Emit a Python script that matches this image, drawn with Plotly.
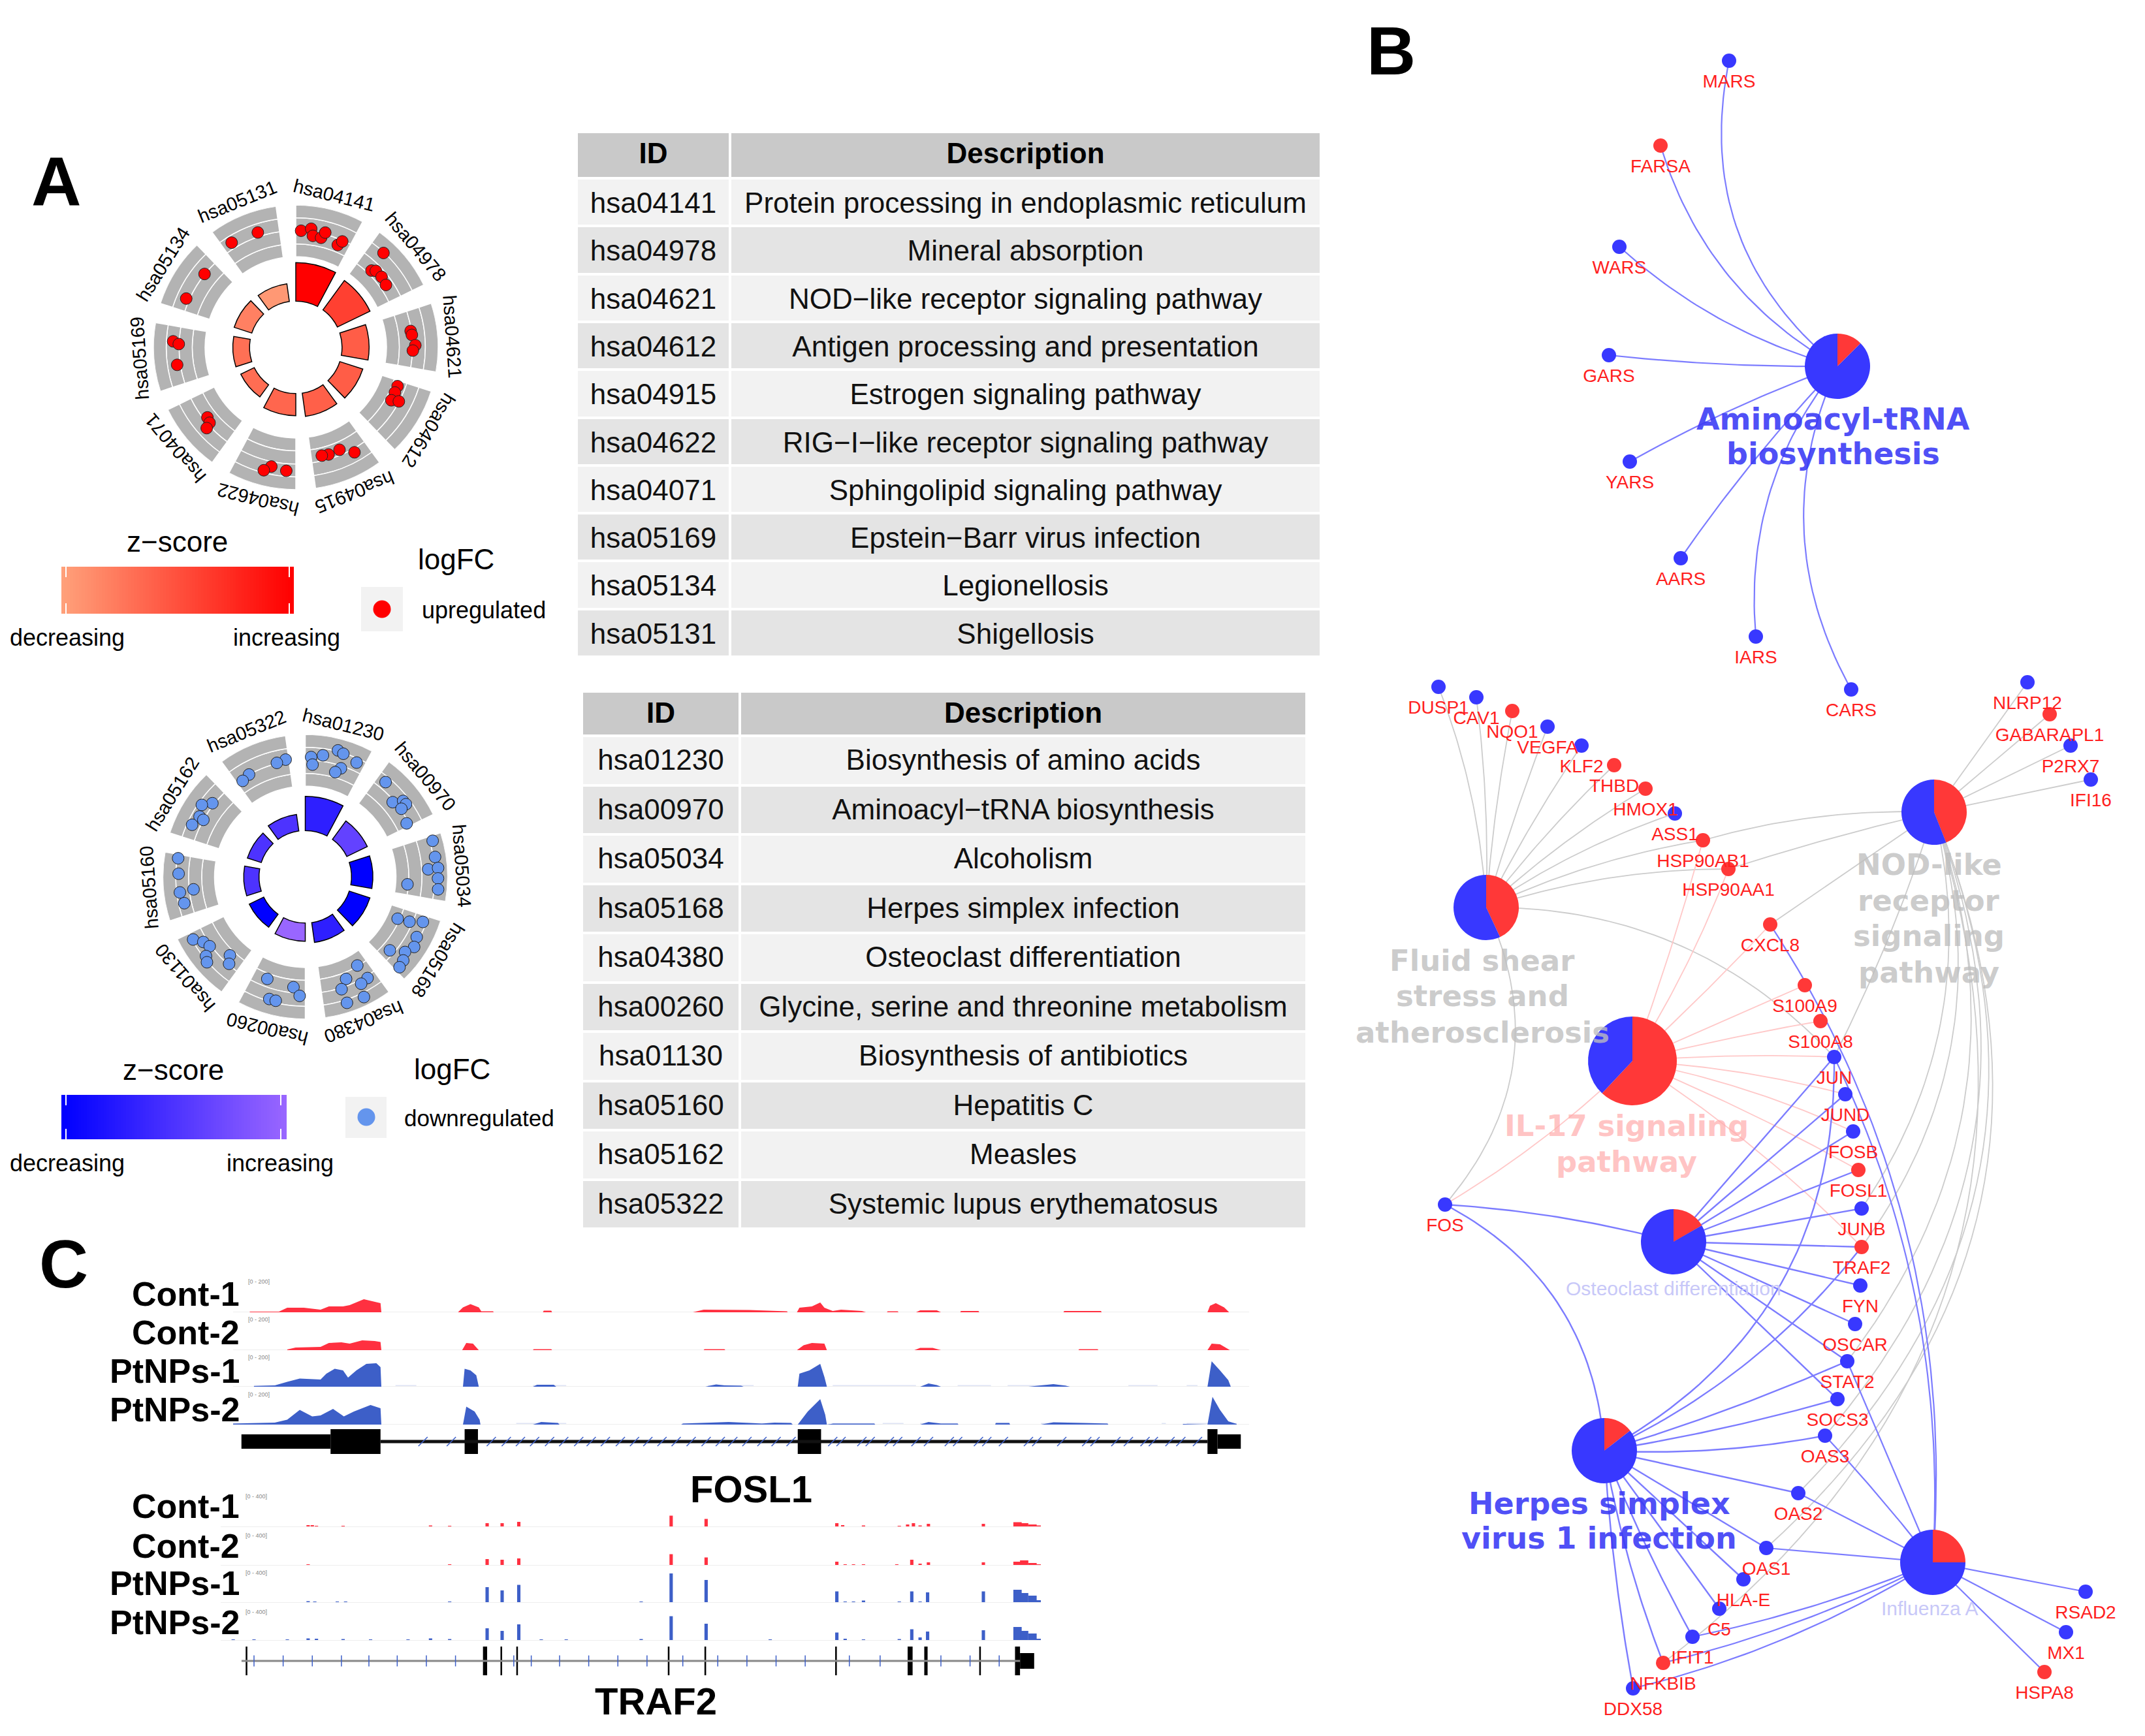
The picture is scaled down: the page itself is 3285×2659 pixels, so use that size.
import numpy as np
import plotly.graph_objects as go

W, H = 3285, 2659
FONT = "Liberation Sans"
WIDE = "DejaVu Sans"

# ---------- panel A: circle plots ----------
up_ids = ["hsa04141","hsa04978","hsa04621","hsa04612","hsa04915","hsa04622","hsa04071","hsa05169","hsa05134","hsa05131"]
up_desc = ["Protein processing in endoplasmic reticulum","Mineral absorption","NOD−like receptor signaling pathway",
           "Antigen processing and presentation","Estrogen signaling pathway","RIG−I−like receptor signaling pathway",
           "Sphingolipid signaling pathway","Epstein−Barr virus infection","Legionellosis","Shigellosis"]
up_bar = [238,232,206,198,196,192,172,177,182,180]
up_z = [1.0,0.6,0.42,0.42,0.4,0.36,0.32,0.3,0.2,0.05]
up_theta = [2.6,7.4,8.7,13,14.4,22.3,23.7, 42.9,44.6,46.3,50.6,55.3, 81.9,83.9,89,91.6, 110.9,114.5,119,117.7,
            150.8,156.9,163,166.5, 184.4,191.6,194.6, 231.6,228.8,227.8, 272.8,271.6,261.6, 308.8,294, 341.7,328.5]
up_r = [328,336,317,316,333,311,325, 362,303,311,312,308, 326,328,336,329, 306,306,307,327,
        338,313,315,313, 348,342,357, 317,322,338, 345,329,337, 329,337, 340,345]

down_ids = ["hsa01230","hsa00970","hsa05034","hsa05168","hsa04380","hsa00260","hsa01130","hsa05160","hsa05162","hsa05322"]
down_desc = ["Biosynthesis of amino acids","Aminoacyl−tRNA biosynthesis","Alcoholism","Herpes simplex infection",
             "Osteoclast differentiation","Glycine, serine and threonine metabolism","Biosynthesis of antibiotics",
             "Hepatitis C","Measles","Systemic lupus erythematosus"]
down_bar = [226,194,190,191,186,181,175,173,171,177]
down_z = [0.3,0.65,0.0,0.0,0.3,1.0,0.0,0.5,0.5,0.5]
down_theta = [2.8,3.7,8.3,14.5,17.2,24.2,18.2,16, 40.3,49.5,52.2,54.2,54.7,62.2, 74.2,81.3,86.5,86.2,90.7,95.4,94.2,
              114.4,113.3,111,118.4,122.8,131,127,130.5,133.8, 149.6,148.4,152.4,158.2,162.1,154,161.7,
              200.4,186.1,182.7,196.4,193.4, 240.8,237.4,234,231.4,229,223.8,221.2,
              278.3,271.4,263.6,262.9,257.7, 308.4,304.8,299.7,299.2,294.7, 350.5,346,331.2,326.9]
down_r = [337,316,345,367,362,352,321,306, 349,323,348,349,331,322, 372,369,346,374,373,375,288,
          285,319,354,356,364,315,351,362,367, 289,334,339,309,332,376,373,
          306,312,335,358,358, 361,340,332,357,366,306,325,
          361,356,316,355,348, 333,354,342,328,350, 334,330,328,322]

# ---------- panel B: network ----------
gene_names = ["MARS","FARSA","WARS","GARS","YARS","AARS","IARS","CARS",
 "DUSP1","CAV1","NQO1","VEGFA","KLF2","THBD","HMOX1","ASS1","HSP90AB1","HSP90AA1","CXCL8","S100A9","S100A8",
 "JUN","JUND","FOSB","FOSL1","JUNB","NLRP12","GABARAPL1","P2RX7","IFI16","FOS",
 "TRAF2","FYN","OSCAR","STAT2","SOCS3","OAS3","OAS2","OAS1","HLA-E","C5","IFIT1","NFKBIB","DDX58","RSAD2","MX1","HSPA8"]
gene_x = [2648,2543,2480,2464,2496,2574,2689,2835,
 2203,2261,2316,2370,2422,2472,2520,2565,2608,2647,2711,2764,2788,
 2809,2826,2838,2846,2851,3105,3139,3171,3202,2213,
 2851,2849,2841,2829,2814,2795,2754,2705,2670,2633,2592,2547,2501,3194,3164,3131]
gene_y = [93,223,378,544,707,855,975,1056,
 1052,1068,1089,1113,1142,1172,1208,1246,1287,1331,1416,1509,1564,
 1619,1676,1733,1792,1851,1045,1094,1142,1194,1845,
 1910,1969,2028,2085,2143,2199,2287,2371,2419,2464,2507,2547,2586,2438,2500,2561]
gene_up = ["FARSA","NQO1","THBD","HMOX1","HSP90AB1","HSP90AA1","CXCL8","S100A9","S100A8","FOSL1","GABARAPL1","TRAF2","NFKBIB","HSPA8"]

hub_names = ["Aminoacyl","Fluid","NOD","IL17","Osteoclast","Herpes","Influenza"]
hub_x = [2814,2276,2962,2500,2563,2457,2960]
hub_y = [561,1390,1244,1625,1902,2222,2393]
hub_radius = [50,50,50,68,50,50,50]
hub_red_share = [0.125,0.43,0.44,0.62,0.167,0.145,0.25]

edges_amino = [("MARS",-.3),("FARSA",-.2),("WARS",-.12),("GARS",-.03),("YARS",.04),("AARS",.04),("IARS",.2),("CARS",.25)]
edges_fluid = [("DUSP1",.08),("CAV1",.04),("NQO1",-.03),("VEGFA",-.02),("KLF2",-.03),("THBD",-.04),("HMOX1",-.05),
               ("ASS1",-.07),("HSP90AB1",-.07),("HSP90AA1",-.08),("JUN",-.22),("FOS",-.32)]
edges_nod = [("NLRP12",0),("GABARAPL1",0),("P2RX7",0),("IFI16",0),("HSP90AB1",.08),("HSP90AA1",.02),("CXCL8",0),("JUN",-.04),
             ("JUNB",-.22),("TRAF2",-.25),("STAT2",-.27),("OAS3",-.3),("OAS2",-.33),("OAS1",-.35),("NFKBIB",-.35)]
edges_il17 = [("HSP90AB1",.02),("HSP90AA1",.05),("CXCL8",.02),("S100A9",0),("S100A8",-.02),("JUN",-.03),("JUND",-.05),
              ("FOSB",-.06),("FOSL1",-.03),("TRAF2",-.06),("FOS",-.06)]
edges_osteo = [("JUN",0),("JUND",0),("FOSB",0),("FOSL1",0),("JUNB",0),("TRAF2",0),("FYN",0),("OSCAR",0),("STAT2",0),("SOCS3",0),("FOS",.05)]
edges_herpes = [("FOS",.28),("JUN",.3),("TRAF2",.12),("STAT2",.03),("SOCS3",.03),("OAS3",.06),("OAS2",0),("OAS1",0),
                ("HLA-E",0),("C5",0),("IFIT1",.03),("NFKBIB",.05),("DDX58",.03)]
edges_flu = [("CXCL8",.17),("JUN",.13),("STAT2",0),("OAS3",.02),("OAS2",0),("OAS1",0),("RSAD2",0),("MX1",0),("HSPA8",0),
             ("IFIT1",-.05),("NFKBIB",-.06),("DDX58",-.08)]

# ---------- panel C: coverage tracks ----------
fosl1_cont1_x = [300,335,345,365,385,395,412,420,437,450,457,458,550,556,565,575,578,592,593,652,653,662,663,832,845,900,945,946,957,960,975,985,990,1000,1010,1035,1040,1065,1066,1078,1079,1100,1105,1125,1130,1153,1154,1175,1176,1277,1278,1322,1323,1450,1453,1460,1470,1476]
fosl1_cont1_y = [2,2,14,14,8,18,18,22,40,32,28,0,0,15,25,15,3,3,0,0,5,5,0,0,8,7,3,0,0,14,18,30,14,4,8,4,0,0,3,3,0,0,6,6,0,0,4,4,0,0,4,4,0,0,20,28,15,0]
fosl1_cont2_x = [345,355,385,395,410,420,435,450,457,458,555,560,568,575,640,641,662,663,845,846,870,871,957,965,975,990,993,1098,1105,1120,1130,1295,1296,1318,1319,1450,1455,1465,1477]
fosl1_cont2_y = [2,8,10,22,24,20,30,28,25,0,0,22,20,0,0,3,3,0,0,3,3,0,0,15,22,20,0,0,7,7,0,0,3,3,0,0,20,18,0]
fosl1_pt1_x = [305,330,345,360,385,392,402,412,418,428,440,452,457,458,556,558,565,572,575,640,645,665,668,847,860,870,890,893,958,960,972,985,990,993,1105,1115,1125,1130,1235,1250,1265,1280,1285,1450,1455,1465,1475,1478]
fosl1_pt1_y = [2,4,15,25,22,40,55,50,28,50,70,72,60,0,0,55,50,35,0,0,6,6,0,0,7,4,3,0,0,40,50,70,30,0,0,10,5,0,0,4,8,3,0,0,78,50,20,0]
fosl1_pt2_x = [280,305,330,345,360,375,385,400,413,425,445,457,458,556,560,570,576,577,640,650,670,672,818,820,850,875,900,915,930,950,952,958,970,985,991,993,1000,1050,1051,1105,1115,1130,1150,1151,1195,1196,1212,1213,1250,1265,1300,1330,1331,1420,1421,1450,1456,1465,1475,1485]
fosl1_pt2_y = [3,5,6,15,45,25,28,48,25,40,60,50,0,0,55,40,15,0,0,8,5,0,0,3,5,8,5,3,6,5,0,0,40,78,30,0,3,3,0,0,8,3,3,0,0,5,5,0,0,7,5,3,0,0,2,0,85,45,10,2]
fosl1_pale1_start = [305,475,640,850,1000,1150,1210,1355,1425]
fosl1_pale1_end = [330,500,680,905,1100,1190,1280,1390,1438]
fosl1_pale2_start = [280,620,820,1000,1060,1105,1195,1250,1395,1425]
fosl1_pale2_end = [335,680,950,1050,1085,1150,1212,1330,1400,1485]
fosl1_exon_start = [290,397,558,958,1450,1462]
fosl1_exon_end = [397,457,574,986,1462,1490]
fosl1_exon_half = [22,38,38,38,38,22]
fosl1_marks = [508,542,590,608,625,642,660,677,695,710,727,745,762,778,795,812,830,848,865,880,897,915,932,950,
               1000,1010,1035,1045,1068,1078,1100,1115,1140,1150,1175,1185,1205,1235,1245,1275,1305,1315,1340,1355,1375,1385,1405,1418,1438]

traf2_cont1_x = [370,375,380,412,517,540,585,603,623,806,848,1005,1012,1037,1080,1090,1097,1105,1115,1181,1222,1230,1240,1248]
traf2_cont1_y = [6,6,4,3,5,4,12,12,16,35,25,12,6,5,3,8,12,5,10,10,15,12,8,5]
traf2_cont2_x = [370,412,540,585,603,623,806,848,1005,1015,1025,1037,1077,1095,1105,1115,1181,1222,1230,1240,1248]
traf2_cont2_y = [3,2,3,20,18,22,35,25,12,4,3,3,3,18,6,10,10,12,16,8,4]
traf2_pt1_x = [280,345,370,378,405,415,445,490,540,555,585,603,623,770,806,848,920,1005,1015,1025,1037,1080,1095,1105,1114,1181,1222,1230,1240,1248]
traf2_pt1_y = [2,2,5,4,3,3,2,2,3,2,48,38,55,3,90,70,2,35,4,3,7,3,35,4,32,35,40,30,22,8]
traf2_pt2_x = [280,305,345,370,380,412,445,490,517,540,585,603,623,650,680,770,806,848,925,1005,1015,1037,1080,1095,1105,1114,1181,1222,1230,1240,1248]
traf2_pt2_y = [4,3,4,7,6,5,3,4,7,5,38,30,50,3,3,5,75,52,3,25,6,4,5,35,10,28,32,42,30,22,6]
traf2_exon_start = [295,580,601,620,802,846,1003,1090,1110,1176,1219,1225]
traf2_exon_end = [297,585,603,622,804,848,1005,1096,1114,1178,1225,1242]
traf2_exon_half = [44,44,44,44,44,44,44,44,44,44,44,24]
traf2_marks = [305,340,375,410,443,477,512,547,617,638,672,707,742,777,820,862,897,932,967,1020,1057,1130,1165,1200]

track_labels = ["Cont-1","Cont-2","PtNPs-1","PtNPs-2"]

# ---------- helpers ----------
RED, BLUE = "#FF3838", "#3838FF"
fig = go.Figure()
ann, shapes, layout_axes = [], [], {}
axis_n = [1]

def text(x, y, s, size, color="#000000", bold=False, family=FONT, anchor="center", angle=0):
    ann.append(dict(x=x, y=y, xref="x", yref="y", text=s, showarrow=False, xanchor=anchor, yanchor="middle",
                    textangle=angle, font=dict(size=size, color=color, family=family, weight=700 if bold else 400)))

def new_axes(x0, x1, y0, y1, xr, yr):
    axis_n[0] += 1
    n = axis_n[0]
    layout_axes[f"xaxis{n}"] = dict(domain=[x0/W, x1/W], range=xr, visible=False, anchor=f"y{n}", fixedrange=True)
    layout_axes[f"yaxis{n}"] = dict(domain=[1-y1/H, 1-y0/H], range=yr, visible=False, anchor=f"x{n}", fixedrange=True)
    return f"x{n}", f"y{n}"

def circle_panel(name, cx, cy, ids, bars, z, th, r, scale, pt_color):
    R = 218
    dom = dict(x=[(cx-R)/W, (cx+R)/W], y=[1-(cy+R)/H, 1-(cy-R)/H])
    layout_axes[name] = dict(domain=dom, bgcolor="rgba(0,0,0,0)", barmode="overlay",
        radialaxis=dict(range=[0, 400], visible=False),
        angularaxis=dict(direction="clockwise", rotation=90, visible=False))
    centers = [14 + 36*i for i in range(10)]
    for lo, hi in [(255, 291), (291, 328), (328, 364), (364, 400)]:
        fig.add_trace(go.Barpolar(subplot=name, theta=centers, width=[28]*10, base=[lo]*10, r=[hi-lo]*10,
            marker=dict(color="#B3B3B3", line=dict(color="#FFFFFF", width=1.5)), hoverinfo="skip"))
    fig.add_trace(go.Barpolar(subplot=name, theta=centers, width=[28]*10, base=[130]*10, r=[b-130 for b in bars],
        marker=dict(color=z, colorscale=scale, cmin=0, cmax=1, line=dict(color="#000000", width=1.5)), hoverinfo="skip"))
    fig.add_trace(go.Scatterpolar(subplot=name, theta=th, r=r, mode="markers",
        marker=dict(size=18, color=pt_color, line=dict(color="#222222", width=1)), hoverinfo="skip"))
    for lab, c in zip(ids, centers):
        a = np.radians(c)
        text(cx + 240*np.sin(a), cy - 240*np.cos(a), lab, 29, angle=c)

def legend_panel(x0, x1, y0, y1, scale, tick0, tick1):
    n = 80
    step = (x1-x0)/n
    xs = np.linspace(x0+step/2, x1-step/2, n)
    quarter = (y1-y0)/4
    fig.add_trace(go.Heatmap(x=xs, y=[y0+quarter, y1-quarter], z=[list(np.linspace(0, 1, n))]*2, colorscale=scale, zmin=0, zmax=1,
                             showscale=False, hoverinfo="skip"))
    for tx in (tick0, tick1):
        for a, b in ((y0, y0+16), (y1-16, y1)):
            shapes.append(dict(type="line", xref="x", yref="y", x0=tx, x1=tx, y0=a, y1=b, line=dict(color="#FFFFFF", width=2)))

def table_panel(x0, x1, y0, y1, c1, c2, hh, rh, ids, desc, drop):
    fill = ["#F2F2F2" if i % 2 == 0 else "#E4E4E4" for i in range(len(ids))]
    blank = [""]*len(ids)
    # filled grid with the header text
    fig.add_trace(go.Table(domain=dict(x=[x0/W, x1/W], y=[1-y1/H, 1-y0/H]), columnwidth=[c1, c2],
        header=dict(values=["<b>ID</b>", "<b>Description</b>"], height=hh, align="center",
                    fill_color="#C9C9C9", line=dict(color="#FFFFFF", width=4),
                    font=dict(size=44, color="#000000", family=FONT)),
        cells=dict(values=[blank, blank], height=rh, align="center", fill_color=[fill, fill],
                   line=dict(color="#FFFFFF", width=4), font=dict(size=44, color="#111111", family=FONT))))
    # body text, moved down so that it sits in the middle of each row
    clear = "rgba(0,0,0,0)"
    fig.add_trace(go.Table(domain=dict(x=[x0/W, x1/W], y=[1-(y1+drop)/H, 1-(y0+drop)/H]), columnwidth=[c1, c2],
        header=dict(values=["", ""], height=hh, fill_color=clear, line=dict(color=clear, width=4), font=dict(size=44, color=clear)),
        cells=dict(values=[ids, desc], height=rh, align="center", fill_color=clear,
                   line=dict(color=clear, width=4), font=dict(size=44, color="#111111", family=FONT))))

def area_track(x0px, x1px, base_px, xr, xs, ys, color, pale=None):
    xa, ya = new_axes(x0px, x1px, base_px-50, base_px, xr, [0, 100])
    fig.add_trace(go.Scatter(x=xr, y=[0, 0], xaxis=xa, yaxis=ya, mode="lines", line=dict(color="#EEEEEE", width=2), hoverinfo="skip"))
    if pale:
        st, en = pale
        fig.add_trace(go.Bar(x=[(a+b)/2 for a, b in zip(st, en)], width=[b-a for a, b in zip(st, en)], y=[5]*len(st),
                             xaxis=xa, yaxis=ya, marker=dict(color="#DFE4F5", line=dict(width=0)), hoverinfo="skip"))
    fig.add_trace(go.Scatter(x=xs, y=ys, xaxis=xa, yaxis=ya, mode="lines", fill="tozeroy", fillcolor=color,
                             line=dict(color=color, width=0), hoverinfo="skip"))

def spike_track(x0px, x1px, base_px, xr, xs, ys, color):
    xa, ya = new_axes(x0px, x1px, base_px-50, base_px, xr, [0, 100])
    fig.add_trace(go.Scatter(x=xr, y=[0, 0], xaxis=xa, yaxis=ya, mode="lines", line=dict(color="#EEEEEE", width=2), hoverinfo="skip"))
    fig.add_trace(go.Bar(x=xs, y=ys, width=[10 if v >= 1222 else 4 for v in xs], xaxis=xa, yaxis=ya,
                         marker=dict(color=color, line=dict(width=0)), hoverinfo="skip"))

def gene_model(x0px, x1px, cy, half, xr, st, en, hw, marks, lx0, lx1, line_color, line_w, symbol, msize):
    xa, ya = new_axes(x0px, x1px, cy-half, cy+half, xr, [-44, 44])
    fig.add_trace(go.Scatter(x=[lx0, lx1], y=[0, 0], xaxis=xa, yaxis=ya, mode="lines", line=dict(color=line_color, width=line_w), hoverinfo="skip"))
    fig.add_trace(go.Scatter(x=marks, y=[0]*len(marks), xaxis=xa, yaxis=ya, mode="markers",
                             marker=dict(symbol=symbol, size=msize, line=dict(color="#3D5FC8", width=1.5)), hoverinfo="skip"))
    fig.add_trace(go.Bar(x=[(a+b)/2 for a, b in zip(st, en)], width=[b-a for a, b in zip(st, en)], base=[-h for h in hw],
                         y=[2*h for h in hw], xaxis=xa, yaxis=ya, marker=dict(color="#000000", line=dict(width=0)), hoverinfo="skip"))

def edge_curve(a, b, c, n=40):
    ax, ay, bx, by = a[0], a[1], b[0], b[1]
    mx, my = (ax+bx)/2, (ay+by)/2
    cx, cy = mx - c*(by-ay), my + c*(bx-ax)
    t = np.linspace(0, 1, n)
    return list((1-t)**2*ax + 2*t*(1-t)*cx + t**2*bx) + [None], list((1-t)**2*ay + 2*t*(1-t)*cy + t**2*by) + [None]

# ---------- draw: panel A ----------
RED_SCALE = [[0, "#FFA07A"], [1, "#FF0000"]]
BLUE_SCALE = [[0, "#0000FF"], [1, "#9966FF"]]
circle_panel("polar", 453, 532, up_ids, up_bar, up_z, up_theta, up_r, RED_SCALE, "#FF0000")
circle_panel("polar2", 467.5, 1343, down_ids, down_bar, down_z, down_theta, down_r, BLUE_SCALE, "#6495ED")

legend_panel(94, 450, 868, 940, RED_SCALE, 101, 443)
legend_panel(94, 439, 1677, 1745, BLUE_SCALE, 101, 430)
text(86, 278, "A", 106, bold=True)
text(271, 829, "z−score", 44); text(698, 856, "logFC", 44)
text(103, 976, "decreasing", 36); text(439, 976, "increasing", 36)
text(644, 934, "upregulated", 36, anchor="left")
text(265, 1638, "z−score", 44); text(692, 1637, "logFC", 44)
text(103, 1781, "decreasing", 36); text(429, 1781, "increasing", 36)
text(617, 1712, "downregulated", 35, anchor="left")
shapes.append(dict(type="rect", xref="x", yref="y", x0=553, x1=617, y0=899, y1=967, fillcolor="#F2F2F2", line=dict(width=0), layer="below"))
shapes.append(dict(type="rect", xref="x", yref="y", x0=529, x1=592, y0=1680, y1=1743, fillcolor="#F2F2F2", line=dict(width=0), layer="below"))
fig.add_trace(go.Scatter(x=[585], y=[933], mode="markers", marker=dict(size=27, color="#FF0000"), hoverinfo="skip"))
fig.add_trace(go.Scatter(x=[561], y=[1711], mode="markers", marker=dict(size=27, color="#6495ED"), hoverinfo="skip"))

table_panel(883, 2023, 202, 1012, 235, 905, 71, 73.3, up_ids, up_desc, 12)
table_panel(891, 2001, 1059, 1885, 242, 868, 68, 75.5, down_ids, down_desc, 11)

# ---------- draw: panel C ----------
RTRACK, BTRACK = "#FF3040", "#3D5FC8"
F0, F1, FR = 357, 1913, [280, 1500]
area_track(F0, F1, 2010, FR, fosl1_cont1_x, fosl1_cont1_y, RTRACK)
area_track(F0, F1, 2068, FR, fosl1_cont2_x, fosl1_cont2_y, RTRACK)
area_track(F0, F1, 2124, FR, fosl1_pt1_x, fosl1_pt1_y, BTRACK, (fosl1_pale1_start, fosl1_pale1_end))
area_track(F0, F1, 2182, FR, fosl1_pt2_x, fosl1_pt2_y, BTRACK, (fosl1_pale2_start, fosl1_pale2_end))
gene_model(F0, F1, 2208, 22, FR, fosl1_exon_start, fosl1_exon_end, fosl1_exon_half, fosl1_marks, 457, 1450, "#111111", 5, "line-ne", 14)
T0, T1, TR = 338, 1594, [265, 1250]
spike_track(T0, T1, 2339, TR, traf2_cont1_x, traf2_cont1_y, RTRACK)
spike_track(T0, T1, 2398, TR, traf2_cont2_x, traf2_cont2_y, RTRACK)
spike_track(T0, T1, 2455, TR, traf2_pt1_x, traf2_pt1_y, BTRACK)
spike_track(T0, T1, 2513, TR, traf2_pt2_x, traf2_pt2_y, BTRACK)
gene_model(T0, T1, 2544, 22, TR, traf2_exon_start, traf2_exon_end, traf2_exon_half, traf2_marks, 290, 1225, "#888888", 3, "line-ns", 12)

text(97, 1936, "C", 104, bold=True)
for lab, y in zip(track_labels, [1982, 2041, 2100, 2159]):
    text(369, y, lab, 52, bold=True, anchor="right")
for lab, y in zip(track_labels, [2307, 2368, 2425, 2485]):
    text(369, y, lab, 52, bold=True, anchor="right")
for y in [1963, 2021, 2079, 2136]:
    text(396, y, "[0 - 200]", 9, color="#888888")
for y in [2292, 2352, 2409, 2469]:
    text(392, y, "[0 - 400]", 9, color="#888888")
text(1150, 2280, "FOSL1", 58, bold=True)
text(1004, 2605, "TRAF2", 58, bold=True)

# ---------- draw: panel B ----------
pos = {g: (x, y) for g, x, y in zip(gene_names, gene_x, gene_y)}
hubs = {h: (x, y) for h, x, y in zip(hub_names, hub_x, hub_y)}
EDGE_BLUE, EDGE_GREY, EDGE_PINK = "#7C7CFF", "#CCCCCC", "#FFC8C8"
for hub, edges, color, w in [("Fluid", edges_fluid, EDGE_GREY, 1.8), ("NOD", edges_nod, EDGE_GREY, 1.8), ("IL17", edges_il17, EDGE_PINK, 1.8),
                             ("Aminoacyl", edges_amino, EDGE_BLUE, 2.2), ("Influenza", edges_flu, EDGE_BLUE, 2.2),
                             ("Osteoclast", edges_osteo, EDGE_BLUE, 2.4), ("Herpes", edges_herpes, EDGE_BLUE, 2.4)]:
    xs, ys = [], []
    for g, c in edges:
        ex, ey = edge_curve(hubs[hub], pos[g], c)
        xs += ex; ys += ey
    fig.add_trace(go.Scatter(x=xs, y=ys, mode="lines", line=dict(color=color, width=w), hoverinfo="skip"))
fig.add_trace(go.Scatter(x=gene_x, y=gene_y, mode="markers",
                         marker=dict(size=22, color=[RED if g in gene_up else BLUE for g in gene_names]), hoverinfo="skip"))
fig.add_trace(go.Scatter(x=gene_x, y=gene_y, mode="markers+text", text=gene_names, textposition="bottom center",
                         textfont=dict(size=28, color="#FF2020", family=FONT),
                         marker=dict(size=30, color="rgba(0,0,0,0)"), hoverinfo="skip"))
for hx, hy, hr, red in zip(hub_x, hub_y, hub_radius, hub_red_share):
    fig.add_trace(go.Pie(values=[red, 1-red], sort=False, direction="clockwise", rotation=0, textinfo="none", hoverinfo="skip",
                         marker=dict(colors=[RED, BLUE], line=dict(width=0)), showlegend=False,
                         domain=dict(x=[(hx-hr)/W, (hx+hr)/W], y=[1-(hy+hr)/H, 1-(hy-hr)/H])))
text(2130, 78, "B", 104, bold=True)
NAVY, GREY, PINK, PALE = "rgba(56,56,245,0.9)", "rgba(190,190,190,0.8)", "rgba(255,170,170,0.7)", "#C8C8F8"
text(2807, 642, "Aminoacyl-tRNA", 46, NAVY, True, WIDE); text(2807, 695, "biosynthesis", 46, NAVY, True, WIDE)
for s, y in [("Fluid shear", 1471), ("stress and", 1525), ("atherosclerosis", 1581)]:
    text(2270, y, s, 45, GREY, True, WIDE)
for s, y in [("NOD-like", 1324), ("receptor", 1379), ("signaling", 1433), ("pathway", 1489)]:
    text(2954, y, s, 45, GREY, True, WIDE)
text(2491, 1724, "IL-17 signaling", 45, PINK, True, WIDE); text(2491, 1779, "pathway", 45, PINK, True, WIDE)
text(2449, 2303, "Herpes simplex", 46, NAVY, True, WIDE); text(2449, 2356, "virus 1 infection", 46, NAVY, True, WIDE)
text(2563, 1973, "Osteoclast differentiation", 30, PALE)
text(2955, 2463, "Influenza A", 30, PALE)

fig.update_layout(width=W, height=H, margin=dict(l=0, r=0, t=0, b=0), paper_bgcolor="#FFFFFF", plot_bgcolor="rgba(0,0,0,0)",
    showlegend=False, barmode="overlay", annotations=ann, shapes=shapes,
    xaxis=dict(domain=[0, 1], range=[0, W], visible=False, fixedrange=True),
    yaxis=dict(domain=[0, 1], range=[H, 0], visible=False, fixedrange=True), **layout_axes)
fig.write_html("out.html", config={"displayModeBar": False}, post_script="document.body.style.margin='0';")
